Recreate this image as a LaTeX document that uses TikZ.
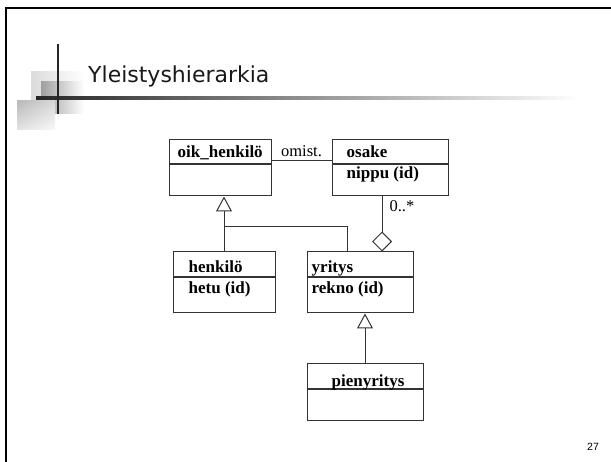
\documentclass[tikz,border=0pt]{standalone}
\usepackage{fontspec}
\setmainfont{Liberation Serif}
\newfontfamily\otsfont{DejaVu Sans}
\newfontfamily\nrofont{Liberation Sans}
\usetikzlibrary{positioning,arrows.meta,shadings}
\definecolor{viiva}{HTML}{333333}

\begin{document}
\begin{tikzpicture}[x=1pt, y=-1pt, font=\fontsize{16.5}{18}\selectfont,
      lk/.style={draw=viiva, line width=1pt, inner sep=0pt, minimum width=#1},
      nimi/.style={anchor=base west, inner sep=0pt, font=\bfseries\fontsize{17}{19}\selectfont},
      yl/.style={draw=viiva, line width=1pt, -{Triangle[open, length=15pt, width=16pt]}},
      ko/.style={draw=viiva, line width=1pt, -{Diamond[open, length=20pt, width=20pt]}}]
    \useasboundingbox (0,0) rectangle (611,462);
    % kalvon reunat ja otsikon koristeet
    \draw[line width=2pt] (6,462) -- (6,8) -- (611,8);
    \shade[left color=gray!28, right color=white] (31,72) rectangle (84,101);
    \shade[left color=gray!75, right color=white] (41,82) rectangle (84,114);
    \shade[upper left=gray!55, upper right=gray!30, lower left=gray!22, lower right=gray!5] (17,101) rectangle (55,130);
    \shade[left color=black!85, right color=white] (36,96.7) rectangle (580,99.5);
    \draw[line width=2pt, black!85] (58,44) -- (58,114);
    \node[anchor=base west, inner sep=0pt, text=black!90,
          font=\otsfont\fontsize{22}{24}\selectfont] (otsikko) at (88,83) {Yleistyshierarkia};
    \node[anchor=base west, inner sep=0pt, font=\nrofont\fontsize{10.5}{12}\selectfont] (sivu) at (587,450) {27};
    % luokat
    \node[lk=102pt, minimum height=24pt] (oikh) at (220,152) {};
    \node[lk=102pt, minimum height=31pt, below=0pt of oikh] (oikb) {};
    \node[lk=116pt, minimum height=24pt] (osakeh) at (390,152) {};
    \node[lk=116pt, minimum height=31pt, below=0pt of osakeh] (osakeb) {};
    \node[lk=102pt, minimum height=25pt] (henkh) at (224,264.5) {};
    \node[lk=102pt, minimum height=35pt, below=0pt of henkh] (henkb) {};
    \node[lk=106pt, minimum height=25pt] (yrith) at (360,264.5) {};
    \node[lk=106pt, minimum height=35pt, below=0pt of yrith] (yritb) {};
    \node[lk=116pt, minimum height=25pt] (pienyh) at (365,376.5) {};
    \node[lk=116pt, minimum height=31pt, below=0pt of pienyh] (pienyb) {};
    \node[nimi] (oikt) at ([shift={(9pt,7pt)}]oikh.south west) {oik\_henkilö};
    \node[nimi] (osaket) at ([shift={(15pt,7pt)}]osakeh.south west) {osake};
    \node[nimi] (nipput) at ([shift={(15pt,-14pt)}]osakeb.north west) {nippu (id)};
    \node[nimi] (henkt) at ([shift={(16pt,5pt)}]henkh.south west) {henkilö};
    \node[nimi] (hetut) at ([shift={(16pt,-16pt)}]henkb.north west) {hetu (id)};
    \node[nimi] (yritt) at ([shift={(5pt,5pt)}]yrith.south west) {yritys};
    \node[nimi] (reknot) at ([shift={(5pt,-16pt)}]yritb.north west) {rekno (id)};
    \node[nimi] (pienyt) at ([shift={(25pt,3pt)}]pienyh.south west) {pienyritys};
    % yhteydet
    \draw[draw=viiva, line width=1pt] ([yshift=-9pt]oikh.east) --
        node[midway, anchor=base, yshift=4pt, inner sep=0pt]{omist.} ([yshift=-9pt]osakeh.west);
    \coordinate (liitos) at (224,227);
    \draw[yl] (henkh.north) -- (henkh.north |- oikb.south);
    \draw[draw=viiva, line width=1pt] ([xshift=-13pt]yrith.north) |- (liitos);
    \draw[ko] ([xshift=-8pt]osakeb.south) --
        node[pos=0.27, anchor=base west, xshift=7pt, inner sep=0pt]{0..*} ([xshift=-8pt]osakeb.south |- yrith.north);
    \draw[yl] (pienyh.north) -- (pienyh.north |- yritb.south);
\end{tikzpicture}
\end{document}
